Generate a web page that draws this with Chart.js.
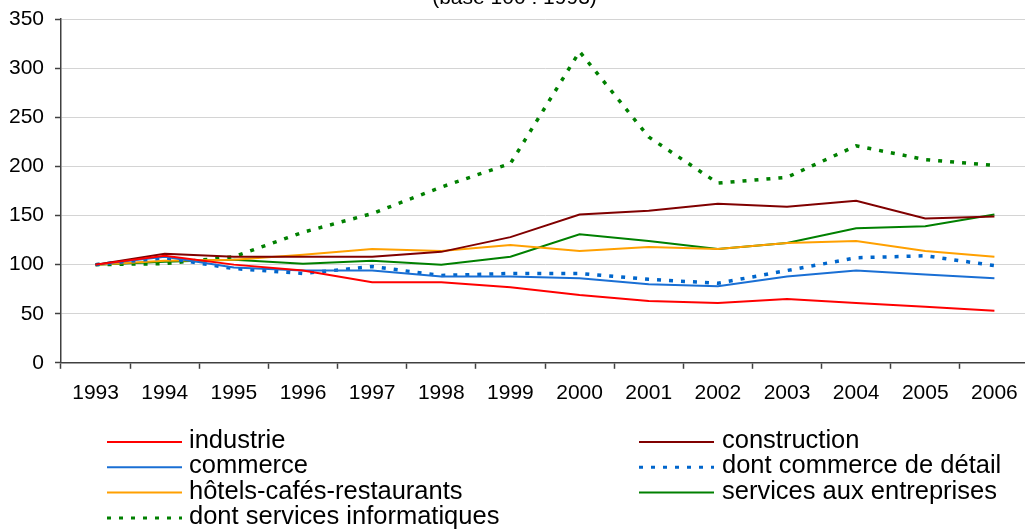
<!DOCTYPE html>
<html>
<head>
<meta charset="utf-8">
<script src="https://cdn.jsdelivr.net/npm/chart.js@4/dist/chart.umd.min.js"></script>
<style>
  html, body { margin: 0; padding: 0; background: #fff; overflow: hidden; }
  #wrap { position: absolute; left: 0; top: -30px; width: 1040px; height: 560px; }
</style>
</head>
<body>
<div id="wrap"><canvas id="chart" width="1040" height="560"></canvas></div>
<script>
// années
const years = ['1993', '1994', '1995', '1996', '1997', '1998', '1999',
               '2000', '2001', '2002', '2003', '2004', '2005', '2006'];

// indices base 100 en 1993
const industrie      = [100, 109, 100, 94, 82, 82, 77, 69, 63, 61, 65, 61, 57, 53];
const construction   = [100, 111, 108, 108, 108, 113, 128, 151, 155, 162, 159, 165, 147, 149];
const commerce       = [100, 108, 97, 94, 94, 88, 88, 86, 80, 78, 88, 94, 90, 86];
const commerceDetail = [100, 107, 96, 91, 98, 89, 91, 91, 85, 81, 94, 107, 109, 99];
const hotels         = [100, 104, 105, 110, 116, 114, 120, 114, 118, 116, 122, 124, 114, 108];
const servicesEntr   = [100, 103, 105, 101, 104, 100, 108, 131, 124, 116, 122, 137, 139, 151];
const servicesInfo   = [100, 101, 108, 133, 152, 179, 203, 317, 230, 183, 189, 221, 207, 201];

const yTicks = [0, 50, 100, 150, 200, 250, 300, 350];

const font = 'Liberation Sans, Arial, sans-serif';

function serie(label, data, color, dotted) {
  return {
    label: label,
    data: data,
    borderColor: color,
    backgroundColor: color,
    borderWidth: dotted ? 3.5 : 2,
    borderDash: dotted ? [4, 8] : [],
    pointRadius: 0,
    tension: 0,
    fill: false
  };
}

// légende sur deux colonnes, dessinée à la main
const legendPlugin = {
  id: 'legendeDeuxColonnes',
  afterDraw(chart) {
    const ctx = chart.ctx;
    const cols = [{ x1: 107, x2: 182, tx: 189 }, { x1: 639, x2: 714, tx: 722 }];
    const top = 471, step = 25.3;
    ctx.save();
    ctx.font = '25.5px ' + font;
    ctx.textBaseline = 'middle';
    ctx.fillStyle = '#000';
    chart.data.datasets.forEach((ds, i) => {
      const c = cols[i % 2];
      const y = top + Math.floor(i / 2) * step;
      ctx.beginPath();
      ctx.strokeStyle = ds.borderColor;
      ctx.lineWidth = ds.borderDash.length ? 3 : 2;
      ctx.setLineDash(ds.borderDash.length ? [4, 8] : []);
      ctx.moveTo(c.x1, y + 1);
      ctx.lineTo(c.x2, y + 1);
      ctx.stroke();
      ctx.setLineDash([]);
      ctx.fillText(ds.label, c.tx, y);
    });
    ctx.restore();
  }
};

const ctx = document.getElementById('chart').getContext('2d');

new Chart(ctx, {
  type: 'line',
  data: {
    labels: years,
    datasets: [
      serie('industrie', industrie, '#ff0000', false),
      serie('construction', construction, '#800000', false),
      serie('commerce', commerce, '#1a6fd4', false),
      serie('dont commerce de détail', commerceDetail, '#0066cc', true),
      serie('hôtels-cafés-restaurants', hotels, '#ffa000', false),
      serie('services aux entreprises', servicesEntr, '#008000', false),
      serie('dont services informatiques', servicesInfo, '#008000', true)
    ]
  },
  options: {
    responsive: false,
    devicePixelRatio: 1,
    animation: false,
    layout: { padding: { left: 0, right: 11, top: 0, bottom: 112 } },
    plugins: {
      legend: { display: false },
      tooltip: { enabled: false },
      title: {
        display: true,
        text: '(base 100 : 1993)',
        color: '#000',
        font: { family: font, size: 21, weight: 'normal' },
        padding: { top: 16, bottom: 8 }
      }
    },
    scales: {
      x: {
        offset: true,
        grid: {
          offset: true,
          drawOnChartArea: false,
          drawTicks: true,
          tickLength: 6,
          tickColor: '#404040',
          tickWidth: 1.5
        },
        border: { color: '#404040', width: 1.5 },
        ticks: {
          color: '#000',
          padding: 12,
          maxRotation: 0,
          font: { family: font, size: 21 }
        }
      },
      y: {
        min: 0,
        max: 350,
        afterFit(scale) { scale.width = 61; },
        afterBuildTicks(scale) { scale.ticks = yTicks.map(v => ({ value: v })); },
        grid: {
          color: '#d4d4d4',
          lineWidth: 1,
          tickLength: 6,
          tickColor: '#404040',
          tickWidth: 1.5
        },
        border: { color: '#404040', width: 1.5 },
        ticks: {
          color: '#000',
          padding: 11,
          font: { family: font, size: 21 }
        }
      }
    }
  },
  plugins: [legendPlugin]
});
</script>
</body>
</html>
